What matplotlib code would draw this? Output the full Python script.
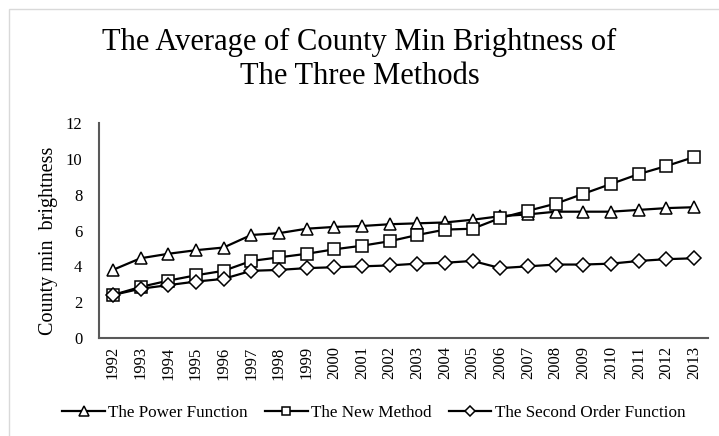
import matplotlib
matplotlib.use("Agg")
from matplotlib import pyplot as plt
from matplotlib.patches import Rectangle

plt.rcParams['font.family'] = ['Liberation Serif', 'DejaVu Serif']

years = [str(y) for y in range(1992, 2014)]
power_function = [3.8, 4.45, 4.7, 4.9, 5.05, 5.75, 5.85, 6.1, 6.2, 6.25, 6.35,
                  6.4, 6.45, 6.6, 6.8, 6.9, 7.05, 7.05, 7.05, 7.15, 7.25, 7.3]
new_method = [2.4, 2.85, 3.2, 3.5, 3.75, 4.3, 4.5, 4.7, 4.95, 5.15, 5.4,
              5.75, 6.05, 6.1, 6.7, 7.1, 7.5, 8.05, 8.6, 9.15, 9.6, 10.1]
second_order = [2.4, 2.75, 2.95, 3.15, 3.3, 3.75, 3.8, 3.9, 3.95, 4.0, 4.05,
                4.15, 4.2, 4.3, 3.9, 4.0, 4.1, 4.1, 4.15, 4.3, 4.4, 4.45]

fig = plt.figure(figsize=(7.19, 4.36), dpi=100)
ax = fig.add_axes([99 / 719, 98 / 436, 609 / 719, 215 / 436])

# light chart border like the spreadsheet frame
fig.patches.append(Rectangle((9 / 719, -0.1), 1.2, (436 - 9) / 436 + 0.1,
                             transform=fig.transFigure, fill=False,
                             edgecolor='#d9d9d9', linewidth=1))

x = list(range(len(years)))
style = dict(color='black', linewidth=1.6, markerfacecolor='white',
             markeredgecolor='black', markeredgewidth=1.1)
ax.plot(x, power_function, marker='^', markersize=9, label='The Power Function', **style)
ax.plot(x, new_method, marker='s', markersize=8, label='The New Method', **style)
ax.plot(x, second_order, marker='D', markersize=7, label='The Second Order Function', **style)

ax.set_xlim(-0.5, len(years) - 0.5)
ax.set_ylim(0, 12)
ax.set_yticks(range(0, 13, 2))
ax.set_xticks(x)
ax.set_xticklabels(years, rotation=90, fontsize=12)
ax.tick_params(axis='y', labelsize=12, length=0, pad=12)
ax.tick_params(axis='x', length=0, pad=6)
for s in ('top', 'right'):
    ax.spines[s].set_visible(False)
for s in ('left', 'bottom'):
    ax.spines[s].set_color('#595959')
    ax.spines[s].set_linewidth(1.5)

ax.set_ylabel('County min  brightness', fontsize=14.5)
ax.yaxis.set_label_coords(-41 / 609, 0.45)
fig.suptitle('The Average of County Min Brightness of\nThe Three Methods',
             fontsize=22, x=0.5, y=0.935, linespacing=1.2)

fig.legend(loc='center', bbox_to_anchor=(0.52, 23 / 436), ncol=3, frameon=False,
           fontsize=12.3, handlelength=2.5, columnspacing=1.0, handletextpad=0.2,
           markerscale=0.75)

fig.savefig('out.png', dpi=100)
